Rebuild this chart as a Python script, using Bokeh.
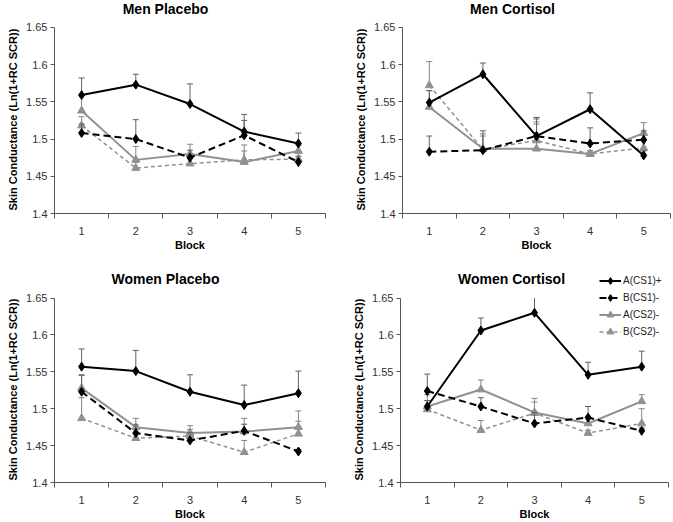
from bokeh.plotting import figure
from bokeh.layouts import column, row
from bokeh.models import (Range1d, FixedTicker, NumeralTickFormatter, Legend, LegendItem,
                          ColumnDataSource, Label, Title)
from bokeh.embed import file_html
from bokeh.resources import INLINE

blocks = [1, 2, 3, 4, 5]
series_names = ["A(CS1)+", "B(CS1)-", "A(CS2)-", "B(CS2)-"]
panel_titles = ["Men Placebo", "Men Cortisol", "Women Placebo", "Women Cortisol"]
y_label = "Skin Conductance (Ln(1+RC SCR))"
x_label = "Block"
y_ticks = [1.4, 1.45, 1.5, 1.55, 1.6, 1.65]

# Men Placebo
mp_a_cs1 = [1.559, 1.573, 1.547, 1.510, 1.494]
mp_a_cs1_err = [0.023, 0.014, 0.027, 0.023, 0.014]
mp_b_cs1 = [1.508, 1.500, 1.475, 1.505, 1.469]
mp_b_cs1_err = [0.012, 0.026, 0.010, 0.020, 0.008]
mp_a_cs2 = [1.538, 1.472, 1.480, 1.469, 1.484]
mp_a_cs2_err = [0.020, 0.018, 0.013, 0.023, 0.008]
mp_b_cs2 = [1.518, 1.461, 1.467, 1.472, 1.473]
mp_b_cs2_err = [0.012, 0.008, 0.008, 0.012, 0.008]

# Men Cortisol
mc_a_cs1 = [1.549, 1.587, 1.504, 1.540, 1.478]
mc_a_cs1_err = [0.016, 0.015, 0.025, 0.022, 0.006]
mc_b_cs1 = [1.483, 1.485, 1.504, 1.494, 1.499]
mc_b_cs1_err = [0.021, 0.026, 0.023, 0.021, 0.012]
mc_a_cs2 = [1.543, 1.487, 1.487, 1.480, 1.508]
mc_a_cs2_err = [0.022, 0.020, 0.033, 0.004, 0.014]
mc_b_cs2 = [1.572, 1.486, 1.498, 1.480, 1.488]
mc_b_cs2_err = [0.032, 0.018, 0.025, 0.004, 0.010]

# Women Placebo
wp_a_cs1 = [1.557, 1.551, 1.523, 1.505, 1.521]
wp_a_cs1_err = [0.024, 0.028, 0.023, 0.027, 0.030]
wp_b_cs1 = [1.523, 1.467, 1.457, 1.470, 1.442]
wp_b_cs1_err = [0.023, 0.011, 0.011, 0.009, 0.003]
wp_a_cs2 = [1.528, 1.475, 1.467, 1.469, 1.475]
wp_a_cs2_err = [0.017, 0.012, 0.010, 0.018, 0.022]
wp_b_cs2 = [1.487, 1.460, 1.463, 1.441, 1.466]
wp_b_cs2_err = [0.028, 0.006, 0.009, 0.016, 0.017]

# Women Cortisol
wc_a_cs1 = [1.503, 1.606, 1.630, 1.546, 1.557]
wc_a_cs1_err = [0.008, 0.017, 0.020, 0.017, 0.021]
wc_b_cs1 = [1.524, 1.503, 1.480, 1.488, 1.470]
wc_b_cs1_err = [0.023, 0.012, 0.015, 0.015, 0.004]
wc_a_cs2 = [1.503, 1.526, 1.495, 1.480, 1.510]
wc_a_cs2_err = [0.008, 0.013, 0.019, 0.010, 0.009]
wc_b_cs2 = [1.499, 1.471, 1.494, 1.467, 1.480]
wc_b_cs2_err = [0.020, 0.013, 0.015, 0.004, 0.020]

panels_data = [
    [(mp_a_cs1, mp_a_cs1_err), (mp_b_cs1, mp_b_cs1_err), (mp_a_cs2, mp_a_cs2_err), (mp_b_cs2, mp_b_cs2_err)],
    [(mc_a_cs1, mc_a_cs1_err), (mc_b_cs1, mc_b_cs1_err), (mc_a_cs2, mc_a_cs2_err), (mc_b_cs2, mc_b_cs2_err)],
    [(wp_a_cs1, wp_a_cs1_err), (wp_b_cs1, wp_b_cs1_err), (wp_a_cs2, wp_a_cs2_err), (wp_b_cs2, wp_b_cs2_err)],
    [(wc_a_cs1, wc_a_cs1_err), (wc_b_cs1, wc_b_cs1_err), (wc_a_cs2, wc_a_cs2_err), (wc_b_cs2, wc_b_cs2_err)],
]

FONT = "Liberation Sans"
styles = [
    dict(color="#000000", err="#606060", dash="solid", lw=2.0, marker="diamond", size=9),
    dict(color="#000000", err="#606060", dash="7 4", lw=2.0, marker="diamond", size=9),
    dict(color="#919191", err="#858585", dash="solid", lw=2.0, marker="triangle", size=8),
    dict(color="#919191", err="#858585", dash="4 3", lw=1.5, marker="triangle", size=8),
]

# (width, height, border_left, border_right, border_top, border_bottom, title_x, title_y, ylabel_offset)
layouts = [
    (335, 260, 54, 10, 0, 47, 111, 205, 3),
    (338, 260, 67, 3, 0, 47, 110, 205, 3),
    (335, 262, 54, 10, 11, 38, 111, 204, 2),
    (338, 262, 65, 5, 11, 38, 111, 204, 2),
]


def make_panel(idx):
    w, h, bl, br, bt, bb, tx, ty, yoff = layouts[idx]
    p = figure(width=w, height=h, output_backend="svg", toolbar_location=None, title=None,
               x_range=Range1d(0.5, 5.5), y_range=Range1d(1.4, 1.686),
               min_border_left=bl, min_border_right=br, min_border_top=bt, min_border_bottom=bb,
               x_axis_label=x_label)
    p.add_layout(Label(x=tx, y=ty, x_units="screen", y_units="screen",
                       text=panel_titles[idx], text_font=FONT, text_font_size="14px",
                       text_font_style="bold", text_color="#000000",
                       text_baseline="middle", text_align="center"))
    p.add_layout(Title(text=y_label, align="left", offset=yoff, standoff=9,
                       text_font=FONT, text_font_size="11px", text_font_style="bold",
                       text_color="#000000"), "left")
    p.outline_line_color = None
    p.grid.visible = False
    p.background_fill_color = "white"
    p.border_fill_color = "white"

    xa = p.xaxis[0]
    xa.ticker = FixedTicker(ticks=blocks, minor_ticks=[0.5, 1.5, 2.5, 3.5, 4.5, 5.5])
    xa.major_tick_out = 0
    xa.major_tick_in = 0
    xa.minor_tick_out = 5
    xa.minor_tick_in = 0
    xa.minor_tick_line_color = "#555555"
    xa.major_label_standoff = 8
    xa.axis_label_standoff = 1

    ya = p.yaxis[0]
    ya.ticker = FixedTicker(ticks=y_ticks)
    ya.formatter = NumeralTickFormatter(format="0.0[0]")
    ya.bounds = (1.4, 1.65)
    ya.major_tick_out = 4
    ya.major_tick_in = 0
    ya.major_label_standoff = 3

    for ax in (xa, ya):
        ax.axis_line_color = "#555555"
        ax.major_tick_line_color = "#555555"
        ax.major_label_text_font = FONT
        ax.major_label_text_font_size = "11px"
        ax.major_label_text_color = "#333333"
        ax.axis_label_text_font = FONT
        ax.axis_label_text_font_size = "11px"
        ax.axis_label_text_font_style = "bold"
        ax.axis_label_text_color = "#000000"

    renderers = []
    for s in range(3, -1, -1):
        vals, errs = panels_data[idx][s]
        st = styles[s]
        tops = [v + e for v, e in zip(vals, errs)]
        src = ColumnDataSource(dict(x=blocks, y=vals, top=tops))
        cap_x = [b for b, t in zip(blocks, tops) if t < 1.6495]
        cap_y = [t for t in tops if t < 1.6495]
        p.segment(x0="x", y0="y", x1="x", y1="top", source=src, line_color=st["err"], line_width=1)
        p.scatter(x=cap_x, y=cap_y, marker="dash", size=6, line_color=st["err"], line_width=1)
        ln = p.line(x="x", y="y", source=src, line_color=st["color"], line_width=st["lw"],
                    line_dash=st["dash"])
        sc = p.scatter(x="x", y="y", source=src, marker=st["marker"], size=st["size"],
                       fill_color=st["color"], line_color=st["color"])
        renderers.append((s, ln, sc))

    if idx == 3:
        renderers.sort(key=lambda t: t[0])
        items = [LegendItem(label=series_names[s], renderers=[ln, sc]) for s, ln, sc in renderers]
        leg = Legend(items=items, location=(199, 142), orientation="vertical",
                     glyph_width=22, glyph_height=17, label_height=17, label_standoff=2,
                     spacing=0, padding=0, margin=0,
                     label_text_font=FONT, label_text_font_size="10px", label_text_color="#222222",
                     border_line_color=None, background_fill_alpha=0)
        p.add_layout(leg, "center")
    return p


figs = [make_panel(i) for i in range(4)]
layout = column(row(figs[0], figs[1]), row(figs[2], figs[3]))

open("out.html", "w").write(file_html(layout, INLINE))
